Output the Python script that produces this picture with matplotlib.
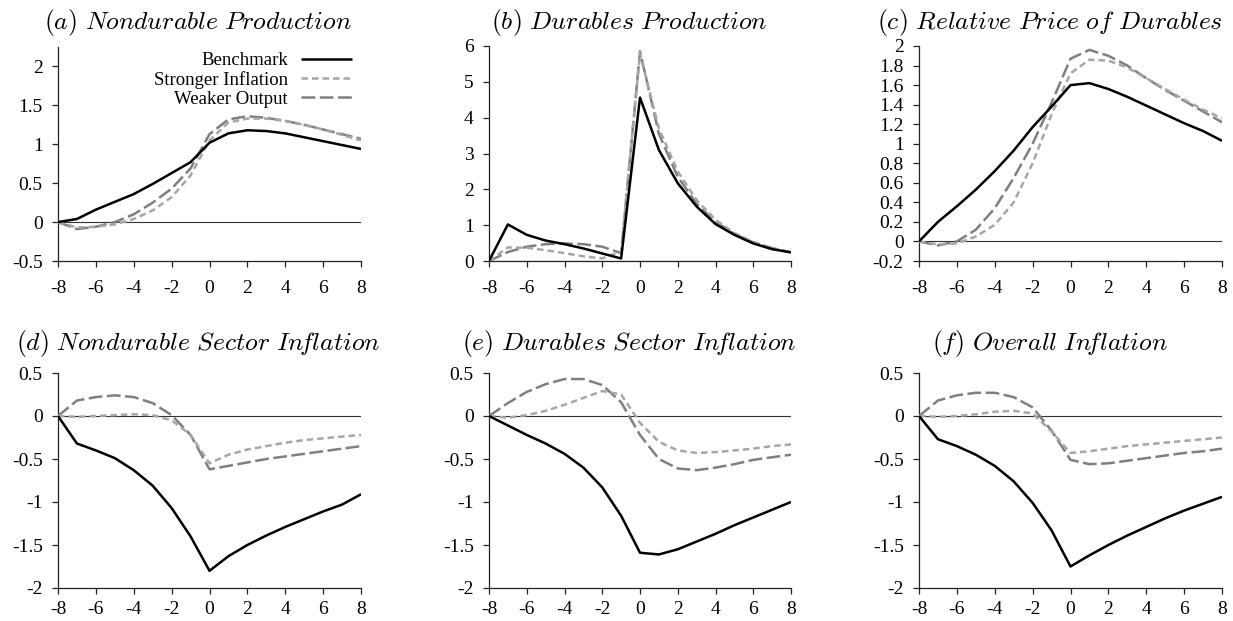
import matplotlib
matplotlib.use("Agg")
import matplotlib.pyplot as plt
import numpy as np

plt.rcParams['mathtext.fontset'] = 'cm'
plt.rcParams['font.family'] = ['Liberation Serif', 'DejaVu Serif']
plt.rcParams['axes.unicode_minus'] = False

x = list(range(-8, 9))

titles = ["(a) Nondurable Production", "(b) Durables Production",
          "(c) Relative Price of Durables", "(d) Nondurable Sector Inflation",
          "(e) Durables Sector Inflation", "(f) Overall Inflation"]
series_names = ["Benchmark", "Stronger Inflation", "Weaker Output"]

# (a) Nondurable production
a_bench = [0, 0.04, 0.16, 0.26, 0.36, 0.49, 0.63, 0.77, 1.02, 1.14, 1.18, 1.17, 1.14, 1.09, 1.04, 0.99, 0.94]
a_strong = [0, -0.07, -0.06, -0.03, 0.04, 0.15, 0.32, 0.6, 1.05, 1.28, 1.33, 1.33, 1.3, 1.25, 1.19, 1.12, 1.05]
a_weak = [0, -0.09, -0.06, 0.0, 0.1, 0.25, 0.43, 0.69, 1.13, 1.32, 1.36, 1.34, 1.3, 1.25, 1.19, 1.13, 1.07]

# (b) Durables production
b_bench = [0, 1.02, 0.73, 0.57, 0.47, 0.35, 0.21, 0.07, 4.56, 3.1, 2.17, 1.52, 1.03, 0.73, 0.49, 0.33, 0.24]
b_strong = [0, 0.38, 0.37, 0.3, 0.22, 0.13, 0.07, 0.27, 5.8, 3.7, 2.5, 1.7, 1.15, 0.78, 0.53, 0.36, 0.24]
b_weak = [0, 0.25, 0.4, 0.47, 0.49, 0.47, 0.4, 0.22, 5.85, 3.55, 2.35, 1.6, 1.1, 0.75, 0.52, 0.36, 0.24]

# (c) Relative price of durables
c_bench = [0, 0.2, 0.36, 0.53, 0.72, 0.93, 1.17, 1.38, 1.6, 1.62, 1.56, 1.48, 1.39, 1.3, 1.21, 1.13, 1.03]
c_strong = [0, -0.03, -0.02, 0.05, 0.17, 0.4, 0.8, 1.3, 1.72, 1.86, 1.85, 1.78, 1.67, 1.56, 1.45, 1.35, 1.26]
c_weak = [0, -0.04, 0.0, 0.12, 0.34, 0.65, 1.0, 1.42, 1.87, 1.96, 1.9, 1.8, 1.67, 1.55, 1.44, 1.33, 1.22]

# (d) Nondurable sector inflation
d_bench = [0, -0.32, -0.4, -0.49, -0.63, -0.81, -1.07, -1.4, -1.8, -1.63, -1.5, -1.39, -1.29, -1.2, -1.11, -1.03, -0.91]
d_strong = [0, -0.01, 0.0, 0.01, 0.02, 0.01, -0.05, -0.22, -0.55, -0.45, -0.39, -0.35, -0.31, -0.28, -0.26, -0.24, -0.22]
d_weak = [0, 0.18, 0.22, 0.24, 0.22, 0.15, 0.01, -0.22, -0.62, -0.58, -0.54, -0.5, -0.47, -0.44, -0.41, -0.38, -0.35]

# (e) Durables sector inflation
e_bench = [0, -0.11, -0.22, -0.32, -0.44, -0.6, -0.83, -1.16, -1.59, -1.61, -1.55, -1.46, -1.37, -1.27, -1.18, -1.09, -1.0]
e_strong = [0, -0.02, 0.01, 0.06, 0.13, 0.21, 0.29, 0.25, -0.08, -0.3, -0.4, -0.43, -0.42, -0.4, -0.38, -0.35, -0.33]
e_weak = [0, 0.15, 0.28, 0.37, 0.43, 0.43, 0.36, 0.16, -0.22, -0.5, -0.61, -0.63, -0.6, -0.56, -0.51, -0.48, -0.45]

# (f) Overall inflation
f_bench = [0, -0.27, -0.35, -0.45, -0.58, -0.76, -1.01, -1.33, -1.75, -1.62, -1.5, -1.39, -1.29, -1.19, -1.1, -1.02, -0.94]
f_strong = [0, -0.01, 0.0, 0.02, 0.05, 0.06, 0.03, -0.18, -0.43, -0.41, -0.38, -0.35, -0.33, -0.31, -0.29, -0.27, -0.25]
f_weak = [0, 0.18, 0.24, 0.27, 0.27, 0.22, 0.1, -0.17, -0.51, -0.56, -0.55, -0.52, -0.49, -0.46, -0.43, -0.41, -0.38]

panels = [
    (a_bench, a_strong, a_weak),
    (b_bench, b_strong, b_weak),
    (c_bench, c_strong, c_weak),
    (d_bench, d_strong, d_weak),
    (e_bench, e_strong, e_weak),
    (f_bench, f_strong, f_weak),
]

ylims = [(-0.5, 2.25), (0, 6), (-0.2, 2.0), (-2, 0.5), (-2, 0.5), (-2, 0.5)]
yticks = [np.arange(-0.5, 2.01, 0.5), np.arange(0, 6.01, 1), np.arange(-0.2, 2.01, 0.2),
          np.arange(-2, 0.51, 0.5), np.arange(-2, 0.51, 0.5), np.arange(-2, 0.51, 0.5)]

W, H = 1233, 621
fig = plt.figure(figsize=(W / 100, H / 100), dpi=100)

lefts = [58, 489, 919]
rights = [361, 791, 1222]
tops_row = [[47, 46, 46], [373, 373, 373]]
bottoms_row = [261, 588]
xpads = [10, 5.5]
title_cx = [198, 629, 1050]
title_base = [29, 350]

styles = [
    dict(color='black', lw=1.8, ls='-'),
    dict(color='#A6A6A6', lw=1.8, ls=(0, (2.6, 1.6))),
    dict(color='#7F7F7F', lw=1.8, ls=(0, (5.5, 1.8))),
]


def fmt(v):
    s = ('%.1f' % v).rstrip('0').rstrip('.')
    if s == '-0':
        s = '0'
    return s


def mt(title):
    t = title.replace('Inflation', 'In\\!flation').replace(' ', r'\ ')
    return r'$\mathit{' + t + '}$'


for i, data in enumerate(panels):
    r, c = divmod(i, 3)
    l, rt = lefts[c], rights[c]
    t, b = tops_row[r][c], bottoms_row[r]
    ax = fig.add_axes([l / W, 1 - b / H, (rt - l) / W, (b - t) / H])
    ax.axhline(0, color='#333333', lw=0.8, zorder=1)
    for s, (ys, st) in enumerate(zip(data, styles)):
        ax.plot(x, ys, label=series_names[s], zorder=3 + (2 - s) * 0.1,
                solid_capstyle='butt', dash_capstyle='butt', **st)
    ax.set_xlim(-8, 8)
    ax.set_ylim(*ylims[i])
    ax.set_xticks(range(-8, 9, 2))
    ax.set_yticks(yticks[i])
    ax.set_yticklabels([fmt(v) for v in yticks[i]])
    ax.spines['top'].set_visible(False)
    ax.spines['right'].set_visible(False)
    for sp in ('left', 'bottom'):
        ax.spines[sp].set_linewidth(0.9)
        ax.spines[sp].set_color('#222222')
    ax.tick_params(axis='both', direction='out', length=4, width=0.9,
                   labelsize=14, color='#222222')
    ax.tick_params(axis='x', pad=xpads[r])
    ax.tick_params(axis='y', pad=7)
    fig.text(title_cx[c] / W, 1 - title_base[r] / H, mt(titles[i]),
             ha='center', va='baseline', fontsize=18.5)
    if i == 0:
        ax.legend(loc='upper right', frameon=False, markerfirst=False,
                  fontsize=13.5, handlelength=2.7, handletextpad=0.7,
                  labelspacing=0.1, borderaxespad=0.2, borderpad=0.3,
                  bbox_to_anchor=(1.0, 1.02))

fig.savefig('out.png', dpi=100)
